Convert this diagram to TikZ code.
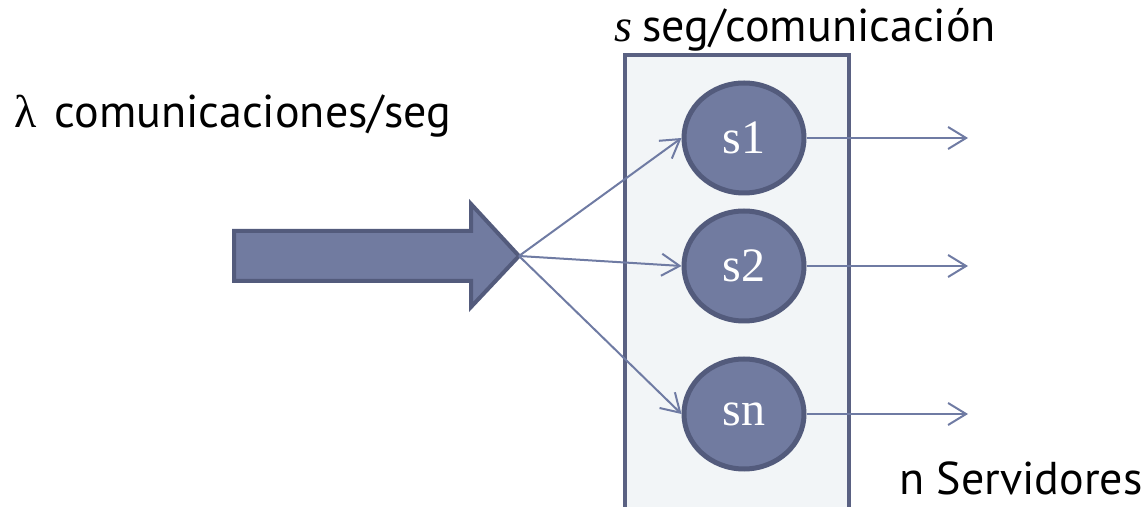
\documentclass[tikz,border=0pt]{standalone}
\usepackage{fontspec}
\setmainfont{Liberation Serif}
\newfontfamily\gill{PT Sans}
\usetikzlibrary{arrows.meta,shapes.geometric}
\definecolor{boxfill}{HTML}{F2F5F7}
\definecolor{boxline}{HTML}{5A6182}
\definecolor{srvfill}{HTML}{717BA0}
\definecolor{srvline}{HTML}{535B7C}
\definecolor{conn}{HTML}{6F7BA3}
\tikzset{
  server/.style={ellipse, fill=srvfill, draw=srvline, line width=2.5pt, minimum width=60pt, minimum height=55pt, inner sep=0pt, text=white, font=\fontsize{24}{26}\selectfont},
  flow/.style={draw=conn, line width=1pt, -{Straight Barb[length=9pt,width=11pt,line width=1pt]}},
  label/.style={inner sep=0pt, font=\gill\fontsize{23}{25}\selectfont}
}
\begin{document}
\begin{tikzpicture}[x=0.5pt,y=-0.5pt]
\useasboundingbox (0,0) rectangle (1146,507);
% box
\path[fill=boxfill] (625,507) -- (625,55) -- (849,55) -- (849,507);
\draw[boxline, line width=2pt] (625,507) -- (625,55) -- (849,55) -- (849,507);
% big arrow
\draw[fill=srvfill, draw=srvline, line width=2pt, line join=miter]
  (234,231) -- (471,231) -- (471,204) -- (519,256) -- (471,307) -- (471,281) -- (234,281) -- cycle;
\coordinate (fan) at (519,256);
% servers
\node[server] (s1) at (744,138) {s1};
\node[server] (s2) at (744,266) {s2};
\node[server] (sn) at (744,414) {sn};
% outputs
\coordinate (o1) at (968,138);
\coordinate (o2) at (968,266);
\coordinate (on) at (968,414);
\draw[flow] (fan) -- (s1.west);
\draw[flow] (fan) -- (s2.west);
\draw[flow] (fan) -- (sn.west);
\draw[flow] (s1.east) -- (o1);
\draw[flow] (s2.east) -- (o2);
\draw[flow] (sn.east) -- (on);
% labels
\node[label, anchor=west] (lam) at (14,116) {{\rmfamily λ}\hspace{9pt}comunicaciones/seg};
\node[label, anchor=west] (sseg) at (614,30) {{\rmfamily\itshape s}\hspace{5pt}seg/comunicación};
\node[label, anchor=west] (nserv) at (899,478) {n Servidores};
\end{tikzpicture}
\end{document}
